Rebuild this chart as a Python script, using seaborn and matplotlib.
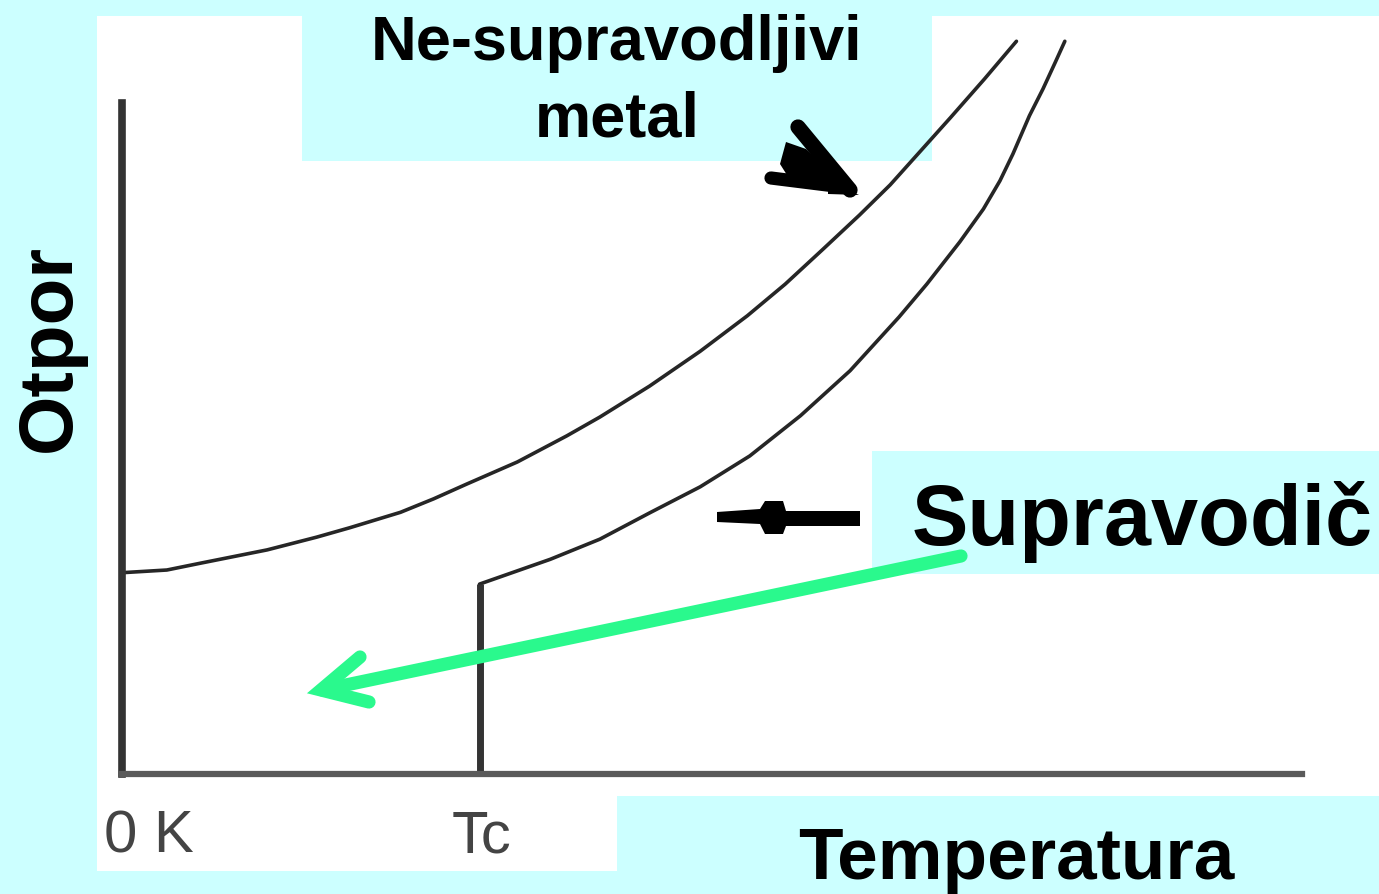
import matplotlib
matplotlib.use("Agg")
import matplotlib.pyplot as plt
import matplotlib.patches as mpatches
from matplotlib.lines import Line2D
import seaborn as sns

# normal (non-superconducting) metal: temperature vs resistance, arbitrary units
metal_temp = [0.0, 3.8, 6.6, 12.3, 16.5, 19.3, 23.6, 26.4, 29.2, 33.5, 37.7, 40.5,
              44.7, 49.0, 53.0, 56.2, 59.4, 62.5, 65.1, 67.6, 70.2, 73.1, 75.8]
metal_res = [30.0, 30.4, 31.4, 33.4, 35.3, 36.7, 39.0, 41.0, 43.2, 46.5, 50.4, 53.2,
             57.8, 63.0, 68.3, 73.0, 78.2, 83.3, 87.8, 92.7, 97.8, 103.6, 109.2]

# superconductor above the transition (first point = Tc)
sc_temp = [30.3, 36.3, 40.5, 44.7, 49.0, 53.2, 57.5, 61.7, 65.85, 68.2, 71.0, 73.0,
           74.4, 75.5, 76.9, 78.05, 79.1, 79.9]
sc_res = [28.3, 32.0, 35.0, 38.9, 42.8, 47.4, 53.4, 60.1, 68.1, 73.0, 79.3, 84.2,
          88.4, 92.4, 98.1, 102.1, 106.1, 109.2]

tick_pos = [0.0, sc_temp[0]]
tick_labels = ["0 K", "Tc"]
x_label = "Temperatura"
y_label = "Otpor"
metal_label = ["Ne-supravodljivi", "metal"]
sc_label = "Supravodič"

W, H = 1379, 895
CYAN = "#CCFFFF"
GREEN = "#2AF98D"

sns.set_style("white")
plt.rcParams["font.family"] = ["Liberation Sans", "DejaVu Sans"]
plt.rcParams["text.color"] = "black"

fig = plt.figure(figsize=(W / 100, H / 100), dpi=100, facecolor=CYAN)


def fx(x):
    return x / W


def fy(y):
    return 1 - y / H


def box(x0, y0, x1, y1, color, z):
    fig.add_artist(mpatches.Rectangle((fx(x0), fy(y1)), (x1 - x0) / W, (y1 - y0) / H,
                                      transform=fig.transFigure, facecolor=color,
                                      edgecolor="none", zorder=z))


def stroke(pts, color, lw, z=5, join="round"):
    fig.add_artist(Line2D([fx(p[0]) for p in pts], [fy(p[1]) for p in pts],
                          transform=fig.transFigure, color=color, lw=lw,
                          solid_capstyle="round", solid_joinstyle=join, zorder=z))


def blob(pts, color, z=5):
    fig.add_artist(mpatches.Polygon([(fx(x), fy(y)) for x, y in pts], closed=True,
                                    transform=fig.transFigure, facecolor=color,
                                    edgecolor="none", zorder=z))


# white picture area and cyan label boxes
box(97, 17, 1379, 872, "white", -3)
box(302, 0, 932, 162, CYAN, -2)
box(872, 452, 1379, 575, CYAN, -2)
box(617, 797, 1379, 895, CYAN, -2)

ax = fig.add_axes([122 / W, (H - 775) / H, 1180 / W, 758 / H])
ax.patch.set_visible(False)

sns.lineplot(x=metal_temp, y=metal_res, ax=ax, color="#262626", lw=2.6,
             estimator=None, sort=False)
sns.lineplot(x=sc_temp, y=sc_res, ax=ax, color="#262626", lw=2.6,
             estimator=None, sort=False)
ax.vlines(sc_temp[0], 0, sc_res[0], color="#333333", lw=5)

ax.set_xlim(0, 100)
ax.set_ylim(0, 758 / 6.71)
ax.set_xticks([])
ax.set_yticks([])
sns.despine(ax=ax)
ax.spines["left"].set_bounds(0, 100)
ax.spines["left"].set_color("#333333")
ax.spines["left"].set_linewidth(5.5)
ax.spines["bottom"].set_color("#5a5a5a")
ax.spines["bottom"].set_linewidth(4.5)

for t, lab, dx in zip(tick_pos, tick_labels, [-18, -28]):
    ax.annotate(lab, xy=(t, 0), xytext=(dx, -78), textcoords="offset pixels",
                ha="left", va="baseline", fontsize=43, color="#444444")

# labels
ax.annotate(metal_label[0], xy=(617, H - 60), xycoords="figure pixels",
            ha="center", va="baseline", fontsize=45.5, fontweight="bold", color="black")
ax.annotate(metal_label[1], xy=(617, H - 137), xycoords="figure pixels",
            ha="center", va="baseline", fontsize=45.5, fontweight="bold", color="black")
ax.annotate(sc_label, xy=(912, H - 545), xycoords="figure pixels",
            ha="left", va="baseline", fontsize=61, fontweight="bold", color="black")
ax.annotate(x_label, xy=(1016, H - 879), xycoords="figure pixels",
            ha="center", va="baseline", fontsize=52.5, fontweight="bold", color="black")
ax.annotate(y_label, xy=(70, H - 348), xycoords="figure pixels",
            ha="center", va="baseline", rotation=90, rotation_mode="anchor",
            fontsize=55, fontweight="bold", color="black")

# hand drawn arrows
stroke([(771, 179), (843, 188)], "black", 9.5)
stroke([(798, 128), (850, 191)], "black", 11)
blob([(786, 143), (806, 150), (853, 193), (792, 184), (780, 165)], "black")
blob([(828, 181), (859, 196), (828, 195)], "black")
blob([(717, 513), (760, 510), (765, 502), (783, 502), (786, 512), (860, 512),
      (860, 527), (786, 527), (783, 535), (765, 535), (760, 525), (717, 523)], "black")
stroke([(961, 557), (322, 691)], GREEN, 9.5)
stroke([(360, 658), (321, 691), (369, 703)], GREEN, 9.5, join="miter")

fig.savefig("out.png", dpi=100, facecolor=fig.get_facecolor())
